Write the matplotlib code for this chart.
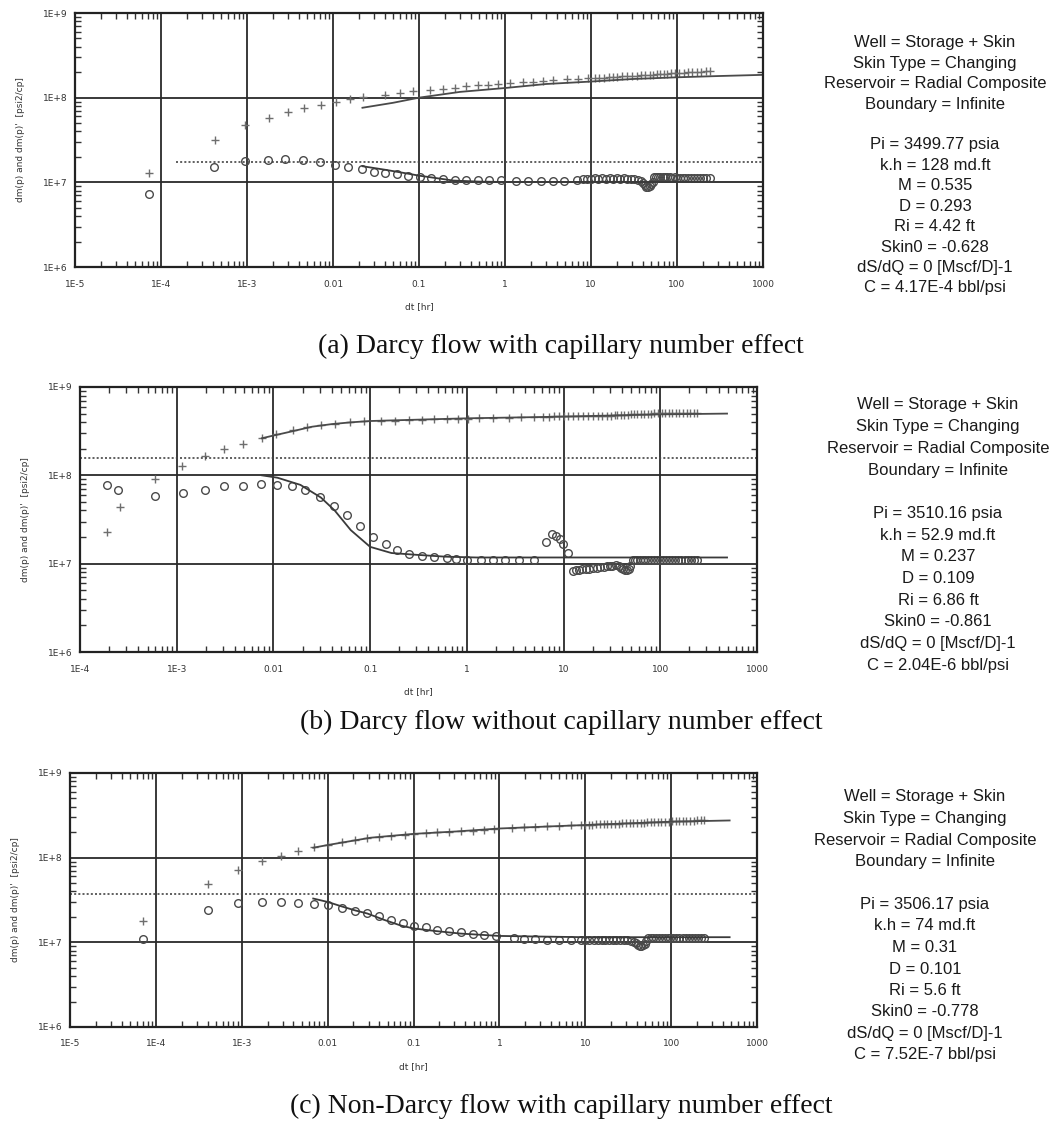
#!/usr/bin/env python3
"""
Log-log diagnostic plots (dm(p) and derivative) for three well test matches:
(a) Darcy flow with capillary number effect
(b) Darcy flow without capillary number effect
(c) Non-Darcy flow with capillary number effect
"""

import matplotlib
matplotlib.use("Agg")
import matplotlib.pyplot as plt
from matplotlib.ticker import FixedLocator, LogLocator, NullFormatter

W, H = 1056, 1122

# ---------------------------------------------------------------- panel (a)
a_t_p = [7.2e-5, 4.2e-4, 9.5e-4, 1.8e-3, 3.0e-3, 4.6e-3, 7.2e-3, 0.0107, 0.0158, 0.0224,
         0.040, 0.060, 0.085, 0.133, 0.19, 0.26, 0.355, 0.485, 0.63, 0.83,
         1.13, 1.62, 2.12, 2.75, 3.6, 5.2, 7.1, 9.2,
         11, 12.5, 14, 16, 18, 20, 23, 26, 30, 34, 38, 43, 48, 53, 58, 64, 70, 77,
         85, 95, 105, 120, 135, 150, 170, 190, 215, 240]
a_p = [1.3e7, 3.2e7, 4.7e7, 5.8e7, 6.8e7, 7.6e7, 8.1e7, 8.9e7, 9.6e7, 1.02e8,
       1.07e8, 1.14e8, 1.19e8, 1.24e8, 1.27e8, 1.31e8, 1.36e8, 1.40e8, 1.43e8, 1.46e8,
       1.50e8, 1.53e8, 1.55e8, 1.58e8, 1.62e8, 1.66e8, 1.66e8, 1.70e8,
       1.71e8, 1.72e8, 1.73e8, 1.74e8, 1.75e8, 1.76e8, 1.78e8, 1.79e8, 1.80e8, 1.82e8,
       1.83e8, 1.85e8, 1.86e8, 1.87e8, 1.88e8, 1.90e8, 1.91e8, 1.92e8, 1.94e8, 1.95e8,
       1.96e8, 1.98e8, 1.99e8, 2.00e8, 2.02e8, 2.03e8, 2.04e8, 2.05e8]
a_t_d = [7.2e-5, 4.1e-4, 9.5e-4, 1.74e-3, 2.8e-3, 4.5e-3, 7.1e-3, 0.0105, 0.0151, 0.0219,
         0.030, 0.040, 0.055, 0.074, 0.102, 0.138, 0.19, 0.26, 0.355, 0.49, 0.66, 0.91,
         1.35, 1.86, 2.6, 3.6, 4.9, 6.8,
         8, 9, 10, 11, 12, 13.5, 15, 16.5, 18, 20, 22, 24, 26.5, 29, 32, 35,
         38, 40, 42, 44, 46, 48, 50, 52,
         54, 57, 60, 64, 68, 72, 77, 82, 88, 94, 100, 108, 116, 125, 135, 145, 157,
         170, 185, 200, 220, 240]
a_d = [7.2e6, 1.51e7, 1.78e7, 1.84e7, 1.90e7, 1.82e7, 1.72e7, 1.62e7, 1.51e7, 1.43e7,
       1.33e7, 1.29e7, 1.26e7, 1.20e7, 1.15e7, 1.12e7, 1.10e7, 1.07e7, 1.065e7, 1.065e7,
       1.065e7, 1.065e7, 1.05e7, 1.04e7, 1.04e7, 1.04e7, 1.04e7, 1.055e7,
       1.09e7, 1.10e7, 1.10e7, 1.11e7, 1.10e7, 1.11e7, 1.10e7, 1.11e7, 1.10e7, 1.11e7,
       1.10e7, 1.11e7, 1.10e7, 1.10e7, 1.09e7, 1.08e7,
       1.05e7, 9.8e6, 9.2e6, 8.9e6, 8.8e6, 9.0e6, 9.5e6, 1.02e7,
       1.15e7, 1.16e7, 1.15e7, 1.16e7, 1.15e7, 1.15e7, 1.16e7, 1.15e7, 1.14e7, 1.15e7,
       1.14e7, 1.14e7, 1.13e7, 1.14e7, 1.13e7, 1.13e7, 1.12e7, 1.13e7, 1.12e7, 1.12e7,
       1.12e7, 1.12e7]
a_tm_p = [0.022, 0.05, 0.1, 0.3, 1, 3, 10, 30, 100, 300, 1000]
a_mp = [7.6e7, 8.7e7, 1.0e8, 1.17e8, 1.30e8, 1.45e8, 1.55e8, 1.66e8, 1.74e8, 1.80e8, 1.86e8]
a_tm_d = [0.022, 0.04, 0.07, 0.1, 0.25, 0.5, 1, 1000]
a_md = [1.55e7, 1.41e7, 1.28e7, 1.2e7, 1.05e7, 1.02e7, 1.01e7, 1.01e7]
a_flat = (1.5e-4, 1.75e7)
a_info = ["Well = Storage + Skin", "Skin Type = Changing", "Reservoir = Radial Composite",
          "Boundary = Infinite", "", "Pi = 3499.77 psia", "k.h = 128 md.ft", "M = 0.535",
          "D = 0.293", "Ri = 4.42 ft", "Skin0 = -0.628", "dS/dQ = 0 [Mscf/D]-1",
          "C = 4.17E-4 bbl/psi"]

# ---------------------------------------------------------------- panel (b)
b_t_p = [1.92e-4, 2.57e-4, 5.9e-4, 1.135e-3, 1.95e-3, 3.1e-3, 4.9e-3, 7.6e-3, 0.0107,
         0.0158, 0.0224, 0.031, 0.043, 0.062, 0.087, 0.129, 0.18, 0.254, 0.34, 0.46,
         0.62, 0.81, 1.02, 1.35, 1.86, 2.7, 3.6, 5.0,
         6.2, 7, 8, 9, 10, 11, 12.5, 14, 16, 18, 20, 22.5, 25, 28, 31, 34,
         36, 39, 42, 46, 50, 54, 58, 63, 68, 74, 80, 87, 95, 103, 112, 122, 133, 145,
         158, 172, 187, 204, 222, 240]
b_p = [2.3e7, 4.4e7, 9.1e7, 1.29e8, 1.64e8, 2.0e8, 2.29e8, 2.63e8, 2.95e8, 3.24e8,
       3.55e8, 3.72e8, 3.85e8, 3.98e8, 4.12e8, 4.17e8, 4.17e8, 4.27e8, 4.27e8, 4.29e8,
       4.32e8, 4.37e8, 4.37e8, 4.47e8, 4.47e8, 4.47e8, 4.52e8, 4.57e8,
       4.62e8, 4.63e8, 4.64e8, 4.65e8, 4.66e8, 4.67e8, 4.68e8, 4.69e8, 4.70e8, 4.71e8,
       4.72e8, 4.72e8, 4.73e8, 4.74e8, 4.75e8, 4.76e8,
       4.80e8, 4.82e8, 4.85e8, 4.88e8, 4.95e8, 4.97e8, 4.98e8, 4.99e8, 5.0e8, 5.0e8,
       5.01e8, 5.02e8, 5.02e8, 5.03e8, 5.03e8, 5.04e8, 5.04e8, 5.05e8, 5.05e8, 5.05e8,
       5.06e8, 5.06e8, 5.07e8, 5.07e8]
b_t_d = [1.92e-4, 2.5e-4, 5.9e-4, 1.15e-3, 1.95e-3, 3.1e-3, 4.8e-3, 7.5e-3, 0.0108,
         0.0155, 0.0214, 0.030, 0.042, 0.058, 0.078, 0.107, 0.145, 0.19, 0.25, 0.34,
         0.46, 0.62, 0.78, 1.0, 1.41, 1.86, 2.5, 3.5, 4.9,
         6.6, 7.6, 8.3, 9.1, 9.9, 11,
         12.6, 13.5, 14.5, 15.5, 17, 18.5, 20, 22, 24, 26, 28, 30, 32, 35,
         37, 39, 41, 43, 45, 47, 49,
         52, 55, 58, 62, 66, 70, 75, 80, 86, 92, 99, 106, 114, 123, 132, 142, 153, 165,
         178, 192, 207, 223, 240]
b_d = [7.7e7, 6.9e7, 5.9e7, 6.3e7, 6.9e7, 7.5e7, 7.6e7, 7.9e7, 7.8e7, 7.6e7, 6.9e7,
       5.75e7, 4.5e7, 3.55e7, 2.7e7, 2.0e7, 1.66e7, 1.41e7, 1.29e7, 1.23e7, 1.19e7,
       1.17e7, 1.12e7, 1.11e7, 1.10e7, 1.10e7, 1.10e7, 1.10e7, 1.10e7,
       1.78e7, 2.14e7, 2.04e7, 1.9e7, 1.66e7, 1.32e7,
       8.3e6, 8.4e6, 8.5e6, 8.6e6, 8.7e6, 8.8e6, 8.9e6, 9.0e6, 9.1e6, 9.2e6, 9.3e6,
       9.4e6, 9.5e6, 9.6e6,
       9.5e6, 9.0e6, 8.6e6, 8.4e6, 8.5e6, 8.8e6, 9.3e6,
       1.09e7, 1.10e7, 1.11e7, 1.10e7, 1.11e7, 1.10e7, 1.11e7, 1.10e7, 1.11e7, 1.10e7,
       1.10e7, 1.11e7, 1.10e7, 1.11e7, 1.10e7, 1.10e7, 1.11e7, 1.10e7, 1.10e7, 1.11e7,
       1.10e7, 1.10e7, 1.10e7]
b_tm_p = [7.6e-3, 0.01, 0.0158, 0.025, 0.04, 0.063, 0.1, 0.316, 1, 10, 100, 490]
b_mp = [2.63e8, 2.82e8, 3.16e8, 3.55e8, 3.8e8, 3.98e8, 4.12e8, 4.27e8, 4.42e8, 4.62e8,
        4.9e8, 5.0e8]
b_tm_d = [7.6e-3, 0.011, 0.019, 0.031, 0.043, 0.063, 0.1, 0.166, 0.3, 0.6, 1.26, 490]
b_md = [1.0e8, 9.4e7, 7.8e7, 5.6e7, 4.0e7, 2.4e7, 1.55e7, 1.32e7, 1.26e7, 1.2e7,
        1.175e7, 1.175e7]
b_flat = (1e-4, 1.57e8)
b_info = ["Well = Storage + Skin", "Skin Type = Changing", "Reservoir = Radial Composite",
          "Boundary = Infinite", "", "Pi = 3510.16 psia", "k.h = 52.9 md.ft", "M = 0.237",
          "D = 0.109", "Ri = 6.86 ft", "Skin0 = -0.861", "dS/dQ = 0 [Mscf/D]-1",
          "C = 2.04E-6 bbl/psi"]

# ---------------------------------------------------------------- panel (c)
c_t_p = [7.0e-5, 4.0e-4, 9.0e-4, 1.74e-3, 2.9e-3, 4.5e-3, 6.9e-3, 0.010, 0.0148, 0.0209,
         0.029, 0.040, 0.055, 0.079, 0.1, 0.139, 0.19, 0.26, 0.355, 0.49, 0.66, 0.87,
         1.41, 1.95, 2.63, 3.6, 4.9, 6.8,
         9, 10, 11, 12, 13.5, 15, 16.5, 18, 20, 22, 24.5, 27, 30, 33, 36, 40, 44, 48,
         53, 58, 64, 70, 77, 85, 94, 103, 113, 125, 137, 151, 166, 183, 201, 221, 240]
c_p = [1.78e7, 4.85e7, 7.1e7, 9.1e7, 1.06e8, 1.20e8, 1.34e8, 1.40e8, 1.53e8, 1.62e8,
       1.70e8, 1.74e8, 1.82e8, 1.86e8, 1.90e8, 1.97e8, 2.0e8, 2.02e8, 2.06e8, 2.09e8,
       2.14e8, 2.19e8, 2.24e8, 2.28e8, 2.29e8, 2.34e8, 2.36e8, 2.40e8,
       2.43e8, 2.44e8, 2.45e8, 2.46e8, 2.47e8, 2.48e8, 2.49e8, 2.50e8, 2.51e8, 2.52e8,
       2.53e8, 2.54e8, 2.55e8, 2.56e8, 2.57e8, 2.58e8, 2.59e8, 2.60e8, 2.61e8, 2.62e8,
       2.63e8, 2.64e8, 2.65e8, 2.66e8, 2.67e8, 2.68e8, 2.69e8, 2.70e8, 2.71e8, 2.72e8,
       2.73e8, 2.74e8, 2.75e8, 2.76e8, 2.77e8]
c_t_d = [7.0e-5, 4.0e-4, 9.0e-4, 1.74e-3, 2.9e-3, 4.5e-3, 6.9e-3, 0.010, 0.0148, 0.0209,
         0.029, 0.040, 0.055, 0.076, 0.1, 0.139, 0.19, 0.26, 0.355, 0.49, 0.66, 0.91,
         1.48, 1.95, 2.63, 3.6, 4.9, 6.8,
         9, 10, 11, 12.5, 14, 15.5, 17, 19, 21, 23, 25.5, 28, 31, 34, 37,
         39, 41, 43, 45, 47, 49, 51,
         54, 58, 62, 67, 72, 78, 84, 91, 98, 106, 115, 125, 136, 148, 161, 175, 190, 206,
         223, 240]
c_d = [1.09e7, 2.44e7, 2.92e7, 3.0e7, 3.0e7, 2.92e7, 2.82e7, 2.75e7, 2.57e7, 2.34e7,
       2.21e7, 2.04e7, 1.86e7, 1.70e7, 1.58e7, 1.51e7, 1.41e7, 1.37e7, 1.32e7, 1.26e7,
       1.23e7, 1.20e7, 1.11e7, 1.10e7, 1.10e7, 1.08e7, 1.07e7, 1.08e7,
       1.07e7, 1.08e7, 1.07e7, 1.07e7, 1.08e7, 1.07e7, 1.07e7, 1.08e7, 1.07e7, 1.07e7,
       1.06e7, 1.07e7, 1.06e7, 1.05e7, 1.02e7,
       9.8e6, 9.4e6, 9.1e6, 9.0e6, 9.2e6, 9.6e6, 1.03e7,
       1.11e7, 1.12e7, 1.11e7, 1.12e7, 1.11e7, 1.12e7, 1.11e7, 1.11e7, 1.12e7, 1.11e7,
       1.11e7, 1.12e7, 1.11e7, 1.11e7, 1.12e7, 1.11e7, 1.11e7, 1.11e7, 1.11e7, 1.11e7]
c_tm_p = [0.0068, 0.01, 0.0316, 0.1, 0.316, 1, 3.16, 10, 31.6, 100, 480]
c_mp = [1.31e8, 1.41e8, 1.72e8, 1.91e8, 2.04e8, 2.21e8, 2.32e8, 2.43e8, 2.54e8, 2.66e8,
        2.75e8]
c_tm_d = [0.0068, 0.01, 0.0147, 0.021, 0.029, 0.045, 0.071, 0.1, 0.18, 0.35, 1, 3, 10, 480]
c_md = [3.29e7, 3.0e7, 2.65e7, 2.38e7, 2.19e7, 1.85e7, 1.58e7, 1.46e7, 1.36e7, 1.27e7,
        1.19e7, 1.17e7, 1.15e7, 1.15e7]
c_flat = (1e-5, 3.7e7)
c_info = ["Well = Storage + Skin", "Skin Type = Changing", "Reservoir = Radial Composite",
          "Boundary = Infinite", "", "Pi = 3506.17 psia", "k.h = 74 md.ft", "M = 0.31",
          "D = 0.101", "Ri = 5.6 ft", "Skin0 = -0.778", "dS/dQ = 0 [Mscf/D]-1",
          "C = 7.52E-7 bbl/psi"]

x_ticks_5 = [1e-5, 1e-4, 1e-3, 1e-2, 1e-1, 1, 10, 100, 1000]
x_labels_5 = ["1E-5", "1E-4", "1E-3", "0.01", "0.1", "1", "10", "100", "1000"]
y_ticks = [1e6, 1e7, 1e8, 1e9]
y_labels = ["1E+6", "1E+7", "1E+8", "1E+9"]

captions = ["(a) Darcy flow with capillary number effect",
            "(b) Darcy flow without capillary number effect",
            "(c) Non-Darcy flow with capillary number effect"]


def px_axes(fig, left, top, right, bottom):
    """Add axes from pixel box (origin top-left)."""
    return fig.add_axes([left / W, 1 - bottom / H, (right - left) / W, (bottom - top) / H])


def draw_panel(ax, xmin, t_p, p, t_d, d, tm_p, mp, tm_d, md, flat):
    ax.set_xscale("log")
    ax.set_yscale("log")
    ax.set_xlim(xmin, 1000)
    ax.set_ylim(1e6, 1e9)

    # data
    ax.plot(t_p, p, linestyle="none", marker="+", ms=5.5, mew=1.0, color="#6e6e6e")
    ax.plot(t_d, d, linestyle="none", marker="o", ms=5.5, mew=1.0, mfc="none",
            mec="#4a4a4a")
    # model
    ax.plot(tm_p, mp, color="#4a4a4a", lw=1.3)
    ax.plot(tm_d, md, color="#3a3a3a", lw=1.3)
    # stabilisation line
    ax.plot([flat[0], 1000], [flat[1], flat[1]], color="#444444", lw=1.2,
            linestyle=(0, (1.2, 1.3)))

    ticks = [t for t in x_ticks_5 if t >= xmin]
    labels = x_labels_5[len(x_ticks_5) - len(ticks):]
    ax.xaxis.set_major_locator(FixedLocator(ticks))
    ax.set_xticklabels(labels)
    ax.xaxis.set_minor_locator(LogLocator(base=10, subs=range(2, 10), numticks=20))
    ax.xaxis.set_minor_formatter(NullFormatter())
    ax.yaxis.set_major_locator(FixedLocator(y_ticks))
    ax.set_yticklabels(y_labels)
    ax.yaxis.set_minor_locator(LogLocator(base=10, subs=range(2, 10), numticks=20))
    ax.yaxis.set_minor_formatter(NullFormatter())

    ax.tick_params(which="major", length=0, labelsize=6.5, colors="#333333")
    ax.tick_params(axis="x", which="major", pad=9)
    ax.tick_params(axis="y", which="major", pad=5)
    ax.tick_params(which="minor", direction="in", length=4, width=1.0, color="#333333",
                   top=True, right=True)
    ax.grid(True, which="major", color="#2a2a2a", lw=1.3)
    for s in ax.spines.values():
        s.set_linewidth(1.6)
        s.set_color("#222222")

    ax.set_xlabel("dt [hr]", fontsize=6.5, color="#333333", labelpad=10)
    ax.set_ylabel("dm(p) and dm(p)'  [psi2/cp]", fontsize=6.5, color="#333333",
                  labelpad=13)


def draw_info(fig, lines, cx, y0, step):
    for i, line in enumerate(lines):
        fig.text(cx / W, 1 - (y0 + i * step) / H, line, ha="center", va="center",
                 fontsize=12, family="Liberation Sans", color="#1a1a1a")


def main():
    fig = plt.figure(figsize=(W / 100, H / 100), dpi=100)

    ax_a = px_axes(fig, 75, 13, 763, 267)
    draw_panel(ax_a, 1e-5, a_t_p, a_p, a_t_d, a_d, a_tm_p, a_mp, a_tm_d, a_md, a_flat)
    ax_b = px_axes(fig, 80, 387, 757, 652)
    draw_panel(ax_b, 1e-4, b_t_p, b_p, b_t_d, b_d, b_tm_p, b_mp, b_tm_d, b_md, b_flat)
    ax_c = px_axes(fig, 70, 773, 757, 1027)
    draw_panel(ax_c, 1e-5, c_t_p, c_p, c_t_d, c_d, c_tm_p, c_mp, c_tm_d, c_md, c_flat)

    draw_info(fig, a_info, 935, 43, 20.4)
    draw_info(fig, b_info, 938, 405, 21.7)
    draw_info(fig, c_info, 925, 797, 21.5)

    for text, y in zip(captions, [346, 722, 1106]):
        fig.text(561 / W, 1 - y / H, text, ha="center", va="center", fontsize=20,
                 family="Liberation Serif", color="#111111")

    fig.savefig("out.png", dpi=100)


if __name__ == "__main__":
    main()
